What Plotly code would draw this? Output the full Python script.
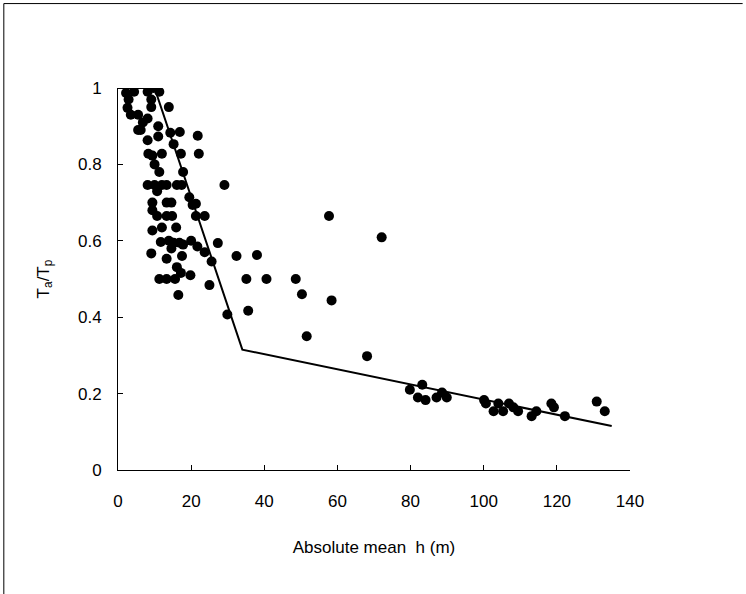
import plotly.graph_objects as go

# Scatter data: absolute mean h (m) and Ta/Tp
h_vals = [2.2, 2.9, 4.4, 2.6, 3.5, 5.5, 6.8, 5.5, 6.2, 8.1, 9.1, 9.7, 11.3, 9.1,
          8.1, 13.9, 11.0, 8.1, 11.0, 14.3, 16.9, 21.8, 8.3, 9.4, 12.0, 15.2,
          17.2, 22.1, 10.0, 11.3, 17.8, 8.1, 10.0, 12.0, 13.3, 16.1, 17.4, 29.1,
          10.7, 19.5, 20.4, 21.3, 9.4, 13.3, 14.6, 9.4, 10.7, 13.3, 14.8, 23.7,
          21.3, 12.0, 9.4, 15.9, 11.7, 13.9, 15.2, 16.8, 17.8, 20.0, 21.7, 23.7,
          27.3, 9.1, 14.6, 17.5, 13.3, 25.6, 16.1, 17.2, 19.8, 11.3, 13.3, 15.6,
          25.0, 16.5, 29.9, 32.4, 38.0, 35.1, 40.6, 48.6, 50.3, 35.6, 51.6, 57.7,
          58.4, 72.1, 68.1, 79.8, 83.2, 82.0, 84.1, 87.1, 88.6, 89.9, 100.1,
          100.6, 102.7, 104.0, 105.3, 106.9, 108.1, 109.4, 113.1, 114.4, 118.5,
          119.2, 122.2, 130.9, 133.1]
ratio_vals = [0.987, 0.97, 0.99, 0.948, 0.93, 0.93, 0.91, 0.89, 0.89, 0.99, 0.97,
              1.0, 0.99, 0.95, 0.92, 0.95, 0.90, 0.863, 0.873, 0.883, 0.885,
              0.875, 0.828, 0.823, 0.828, 0.853, 0.828, 0.828, 0.80, 0.78, 0.78,
              0.746, 0.746, 0.746, 0.746, 0.746, 0.746, 0.746, 0.73, 0.714, 0.694,
              0.697, 0.70, 0.70, 0.70, 0.68, 0.665, 0.665, 0.665, 0.665, 0.665,
              0.635, 0.627, 0.635, 0.597, 0.60, 0.595, 0.595, 0.59, 0.60, 0.585,
              0.57, 0.594, 0.567, 0.58, 0.56, 0.553, 0.546, 0.531, 0.516, 0.51,
              0.50, 0.50, 0.50, 0.484, 0.458, 0.407, 0.56, 0.563, 0.50, 0.50, 0.50,
              0.46, 0.417, 0.35, 0.665, 0.444, 0.609, 0.298, 0.21, 0.223, 0.19,
              0.183, 0.19, 0.203, 0.19, 0.183, 0.174, 0.154, 0.174, 0.154, 0.174,
              0.164, 0.154, 0.141, 0.154, 0.174, 0.164, 0.141, 0.179, 0.154]

# Fitted piecewise line
fit_h = [0, 10, 34, 135]
fit_ratio = [1.0, 1.0, 0.315, 0.115]

x_ticks = [0, 20, 40, 60, 80, 100, 120, 140]
y_ticks = [0, 0.2, 0.4, 0.6, 0.8, 1]
y_tick_text = ["0", "0.2", "0.4", "0.6", "0.8", "1"]

font = dict(family="Liberation Sans, Arial, sans-serif", size=17, color="black")

fig = go.Figure()
fig.add_trace(go.Scatter(x=fit_h, y=fit_ratio, mode="lines",
                         line=dict(color="black", width=2), showlegend=False))
fig.add_trace(go.Scatter(x=h_vals, y=ratio_vals, mode="markers",
                         marker=dict(color="black", size=10), showlegend=False))

fig.update_layout(
    width=746, height=594,
    margin=dict(l=118, r=116, t=88, b=124),
    paper_bgcolor="white", plot_bgcolor="white",
    font=font,
    xaxis=dict(range=[0, 140], tickvals=x_ticks, ticks="inside", ticklen=5,
               tickcolor="black", showline=True, linecolor="black", linewidth=1,
               showgrid=False, zeroline=False, mirror=False,
               ticklabelstandoff=16, tickfont=font,
               title=dict(text="Absolute mean  h (m)", standoff=30, font=font)),
    yaxis=dict(range=[0, 1], tickvals=y_ticks, ticktext=y_tick_text,
               ticks="inside", ticklen=5, tickcolor="black",
               showline=True, linecolor="black", linewidth=1, showgrid=False,
               zeroline=False, ticklabelstandoff=12, tickfont=font,
               title=dict(text="T<sub>a</sub>/T<sub>p</sub>", standoff=24, font=font)),
    shapes=[
        dict(type="line", xref="paper", yref="paper", x0=-0.223, x1=1.22,
             y0=1.221, y1=1.221, line=dict(color="black", width=1)),
        dict(type="line", xref="paper", yref="paper", x0=-0.223, x1=-0.223,
             y0=-0.325, y1=1.221, line=dict(color="black", width=1)),
    ],
)

fig.write_html("out.html")
